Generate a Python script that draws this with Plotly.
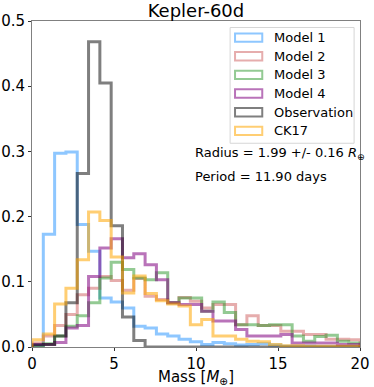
import numpy as np
import plotly.graph_objects as go

# 29 equal bins between 0 and 20 Earth masses, density-normalised
bin_edges = np.linspace(0, 20, 30)

model1 = [0.003, 0.173, 0.297, 0.299, 0.188, 0.147, 0.075, 0.069, 0.060, 0.032,
          0.029, 0.020, 0.017, 0.012, 0.008, 0.004, 0.007, 0.005, 0.003, 0.004,
          0.005, 0.003, 0.001, 0.001, 0.001, 0.0005, 0.0005, 0.0003, 0.0003]
model2 = [0.006, 0.017, 0.033, 0.050, 0.080, 0.090, 0.108, 0.102, 0.087, 0.105,
          0.078, 0.073, 0.068, 0.076, 0.070, 0.060, 0.065, 0.065, 0.034, 0.048,
          0.033, 0.033, 0.024, 0.024, 0.019, 0.019, 0.012, 0.012, 0.011]
model3 = [0.001, 0.005, 0.017, 0.032, 0.048, 0.068, 0.106, 0.130, 0.119, 0.106,
          0.103, 0.114, 0.068, 0.075, 0.075, 0.055, 0.069, 0.053, 0.034, 0.034,
          0.033, 0.034, 0.034, 0.017, 0.009, 0.016, 0.018, 0.009, 0.006]
model4 = [0.004, 0.004, 0.007, 0.029, 0.033, 0.108, 0.152, 0.166, 0.137, 0.143,
          0.126, 0.103, 0.068, 0.065, 0.065, 0.055, 0.040, 0.040, 0.027, 0.017,
          0.017, 0.017, 0.019, 0.006, 0.006, 0.006, 0.006, 0.004, 0.004]
observation = [0.003, 0.004, 0.017, 0.068, 0.266, 0.468, 0.405, 0.186, 0.046, 0.010,
               0, 0, 0, 0, 0, 0, 0, 0, 0, 0,
               0, 0, 0, 0, 0, 0, 0, 0, 0]
ck17 = [0.011, 0.020, 0.066, 0.090, 0.134, 0.207, 0.194, 0.138, 0.083, 0.109,
        0.082, 0.071, 0.066, 0.063, 0.034, 0.042, 0.017, 0.017, 0.012, 0.009,
        0.008, 0.004, 0.002, 0.002, 0.001, 0.001, 0.001, 0.001, 0.001]

series = [model1, model2, model3, model4, observation, ck17]
names = ['Model 1', 'Model 2', 'Model 3', 'Model 4', 'Observation', 'CK17']
colors = ['rgba(30,144,255,0.5)', 'rgba(205,92,92,0.5)', 'rgba(40,150,40,0.5)',
          'rgba(128,0,128,0.55)', 'rgba(0,0,0,0.5)', 'rgba(255,165,0,0.55)']

font = 'DejaVu Sans'


def step_xy(values):
    # outline of a matplotlib 'step' histogram
    x = np.concatenate([[bin_edges[0]], bin_edges[:-1], [bin_edges[-1], bin_edges[-1]]])
    y = np.concatenate([[0], values, [values[-1], 0]])
    return x, y


fig = go.Figure()
for vals, name, col in zip(series, names, colors):
    x, y = step_xy(vals)
    fig.add_trace(go.Scatter(x=x, y=y, name=name, mode='lines',
                             line=dict(color=col, width=3, shape='hv'),
                             showlegend=False))

# legend drawn like matplotlib's patch legend
plot_h = 326.0
fig.add_shape(type='rect', xref='paper', yref='paper', x0=0.604, x1=0.982,
              y0=0.625, y1=0.980, line=dict(color='#d6d6d6', width=1),
              fillcolor='rgba(255,255,255,0.8)', layer='above')
for i, (name, col) in enumerate(zip(names, colors)):
    yc = 0.949 - i * 0.0572
    fig.add_shape(type='rect', xref='paper', yref='paper', x0=0.619, x1=0.702,
                  y0=yc - 4.2 / plot_h, y1=yc + 4.2 / plot_h,
                  line=dict(color=col, width=2), layer='above')
    fig.add_annotation(x=0.731, y=yc, xref='paper', yref='paper', text=name,
                       showarrow=False, xanchor='left', yanchor='middle',
                       font=dict(family=font, size=13, color='black'))

fig.add_annotation(x=0.49, y=0.595, xref='paper', yref='paper',
                   text='Radius = 1.99 +/- 0.16 <i>R</i><sub>⊕</sub>',
                   showarrow=False, xanchor='left', yanchor='middle',
                   font=dict(family=font, size=13, color='black'))
fig.add_annotation(x=0.49, y=0.523, xref='paper', yref='paper',
                   text='Period = 11.90 days',
                   showarrow=False, xanchor='left', yanchor='middle',
                   font=dict(family=font, size=13, color='black'))

axis_style = dict(showline=True, linecolor='#808080', linewidth=1, mirror=True,
                  ticks='outside', ticklen=3, tickcolor='#333', showgrid=False,
                  zeroline=False, automargin=False,
                  tickfont=dict(family=font, size=15, color='black'))

fig.update_layout(
    width=374, height=387,
    margin=dict(l=32, r=14, t=21, b=40),
    paper_bgcolor='white', plot_bgcolor='white',
    title=dict(text='Kepler-60d', x=0.524, xanchor='center', y=0.972, yanchor='middle',
               font=dict(family=font, size=18, color='black')),
    xaxis=dict(range=[0, 20], tickvals=[0, 5, 10, 15, 20],
               title=dict(text='Mass [<i>M</i><sub>⊕</sub>]', standoff=0,
                          font=dict(family=font, size=15, color='black')),
               **axis_style),
    yaxis=dict(range=[0, 0.5], tickvals=[0, 0.1, 0.2, 0.3, 0.4, 0.5], tickformat='.1f',
               **axis_style),
)

# drop the browser's default page margin so the figure sits at the top-left corner
fig.write_html('out.html', config={'displayModeBar': False},
               post_script="document.body.style.margin='0';")
